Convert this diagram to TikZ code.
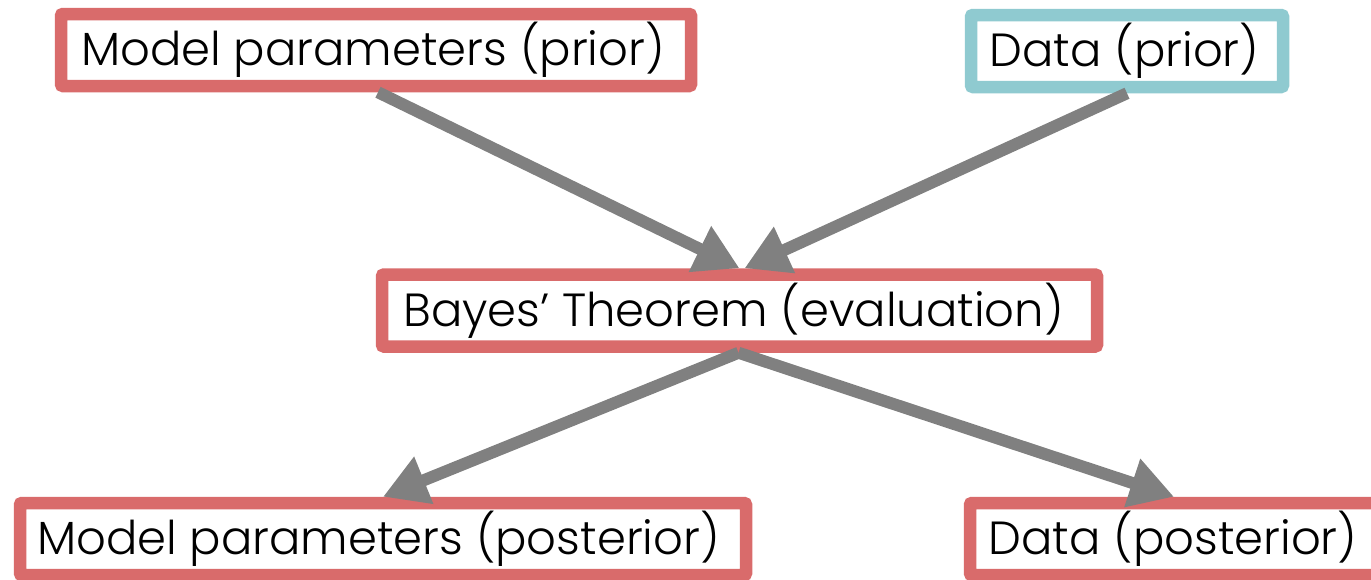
\documentclass[tikz,border=0pt]{standalone}
\usepackage{fontspec}
\setmainfont{Poppins Light}
\usetikzlibrary{arrows.meta}
\definecolor{boxred}{RGB}{217,107,107}
\definecolor{boxteal}{RGB}{143,202,208}
\definecolor{arrgray}{RGB}{128,128,128}
\tikzset{
  stagebox/.style={draw=boxred, line width=12.5pt, rounded corners=2pt, fill=white,
    inner sep=0pt, minimum height=72pt, font=\fontsize{46.5}{52}\selectfont, text=black},
  flow/.style={draw=arrgray, line width=12pt, -{Triangle[length=44pt,width=48pt]}}
}
\begin{document}
\begin{tikzpicture}[x=1pt,y=1pt]
\useasboundingbox (0,0) rectangle (1371,-579);
\node[stagebox, minimum width=630pt] (mprior) at (376,-50) {\hspace*{-6pt}Model parameters (prior)};
\node[stagebox, draw=boxteal, minimum width=312pt] (dprior) at (1127,-51) {\hspace*{-5pt}Data (prior)};
\node[stagebox, minimum width=715pt] (bayes) at (739.5,-310.5) {\hspace*{-12pt}Bayes' Theorem (evaluation)};
\node[stagebox, minimum width=726pt] (mpost) at (383,-539) {\hspace*{-9pt}Model parameters (posterior)};
\node[stagebox, minimum width=414pt] (dpost) at (1177,-539) {\hspace*{-8pt}Data (posterior)};
\draw[flow] ([xshift=2pt]mprior.south) -- ([xshift=0pt]bayes.north);
\draw[flow] (dprior.south) -- ([xshift=5pt]bayes.north);
\draw[flow] ([xshift=-1pt]bayes.south) -- (mpost.north);
\draw[flow] ([xshift=-1pt]bayes.south) -- ([xshift=-3pt]dpost.north);
\end{tikzpicture}
\end{document}
